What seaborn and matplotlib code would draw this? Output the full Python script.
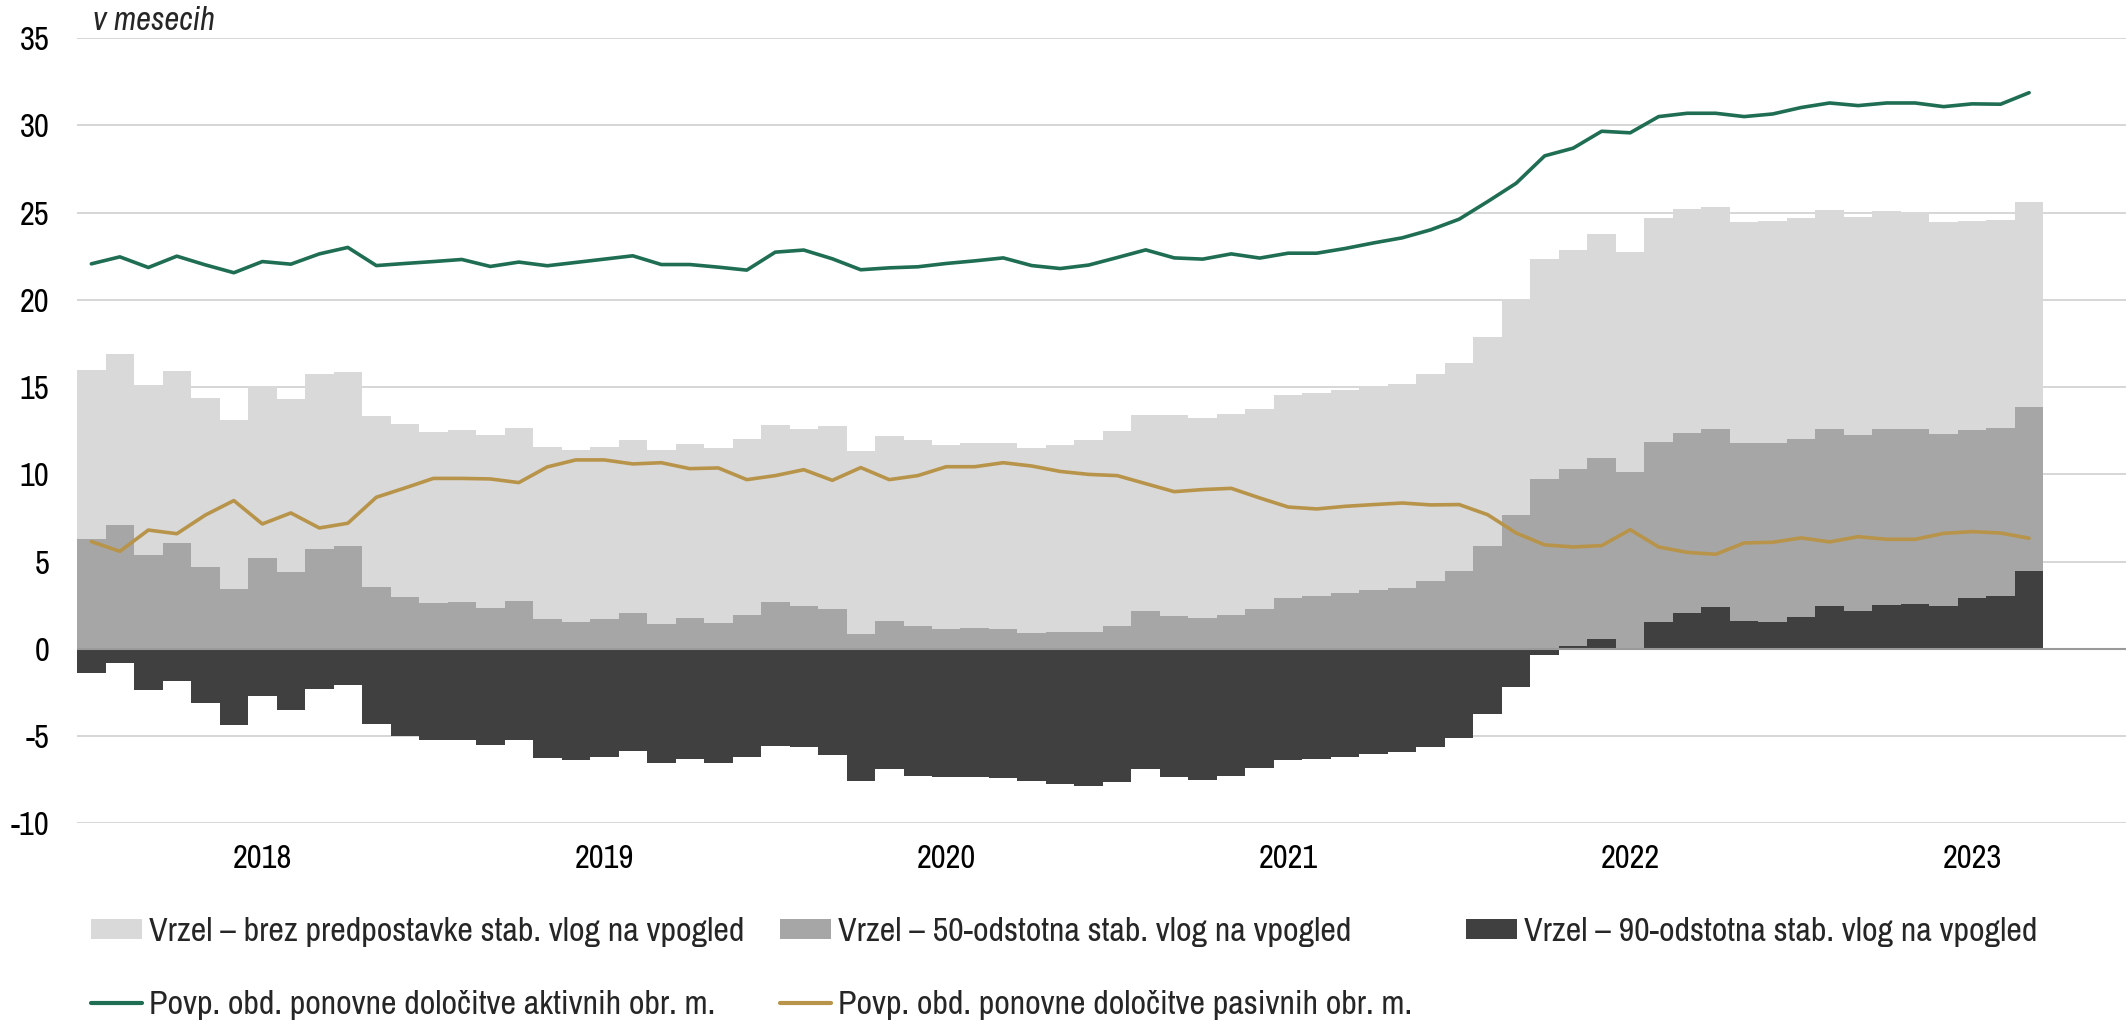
import matplotlib
matplotlib.use("Agg")
import matplotlib.pyplot as plt
from matplotlib.patches import Patch
from matplotlib.lines import Line2D
import seaborn as sns

# Mesečni podatki: januar 2018 - september 2023 (69 mesecev)
meseci = list(range(69))
leta = ["2018", "2019", "2020", "2021", "2022", "2023"]
pozicije_let = [6, 18, 30, 42, 54, 66]

vrzel_brez = [15.96, 16.90, 15.10, 15.94, 14.38, 13.14, 15.08, 14.30, 15.73, 15.85, 13.33, 12.89,
              12.45, 12.54, 12.24, 12.68, 11.55, 11.42, 11.55, 11.97, 11.42, 11.74, 11.51, 12.05,
              12.85, 12.62, 12.75, 11.36, 12.18, 11.95, 11.66, 11.82, 11.80, 11.53, 11.70, 11.99,
              12.51, 13.42, 13.38, 13.25, 13.46, 13.73, 14.57, 14.68, 14.81, 15.06, 15.20, 15.77,
              16.40, 17.89, 20.05, 22.32, 22.89, 23.77, 22.76, 24.67, 25.20, 25.32, 24.48, 24.55,
              24.69, 25.18, 24.78, 25.11, 25.05, 24.48, 24.55, 24.61, 25.61]
vrzel_50 = [6.32, 7.08, 5.40, 6.09, 4.71, 3.42, 5.21, 4.43, 5.75, 5.92, 3.55, 3.00,
            2.63, 2.71, 2.37, 2.77, 1.70, 1.56, 1.72, 2.08, 1.45, 1.74, 1.51, 1.93,
            2.67, 2.48, 2.31, 0.86, 1.60, 1.30, 1.12, 1.18, 1.15, 0.92, 0.95, 0.99,
            1.32, 2.15, 1.89, 1.74, 1.96, 2.31, 2.94, 3.03, 3.18, 3.40, 3.51, 3.89,
            4.48, 5.92, 7.69, 9.76, 10.29, 10.92, 10.16, 11.86, 12.39, 12.62, 11.80, 11.80,
            12.05, 12.58, 12.26, 12.58, 12.60, 12.32, 12.56, 12.66, 13.88]
vrzel_90 = [-1.40, -0.80, -2.37, -1.82, -3.08, -4.35, -2.69, -3.50, -2.31, -2.06, -4.28, -4.97,
            -5.23, -5.20, -5.52, -5.21, -6.24, -6.36, -6.21, -5.87, -6.53, -6.30, -6.57, -6.19,
            -5.56, -5.64, -6.09, -7.60, -6.88, -7.26, -7.33, -7.33, -7.39, -7.60, -7.72, -7.85,
            -7.64, -6.91, -7.35, -7.49, -7.31, -6.84, -6.36, -6.30, -6.19, -6.02, -5.90, -5.64,
            -5.10, -3.72, -2.18, -0.34, 0.15, 0.59, 0.00, 1.53, 2.06, 2.40, 1.60, 1.53,
            1.85, 2.44, 2.18, 2.52, 2.59, 2.48, 2.92, 3.01, 4.47]
aktivni = [22.07, 22.47, 21.86, 22.51, 22.01, 21.56, 22.20, 22.05, 22.64, 23.01, 21.97, 22.09,
           22.20, 22.32, 21.92, 22.17, 21.96, 22.15, 22.34, 22.53, 22.03, 22.03, 21.88, 21.71,
           22.74, 22.86, 22.36, 21.73, 21.84, 21.90, 22.09, 22.24, 22.41, 21.97, 21.80, 22.00,
           22.43, 22.87, 22.41, 22.34, 22.64, 22.40, 22.68, 22.68, 22.95, 23.27, 23.56, 24.02,
           24.63, 25.64, 26.69, 28.26, 28.70, 29.67, 29.58, 30.51, 30.70, 30.70, 30.51, 30.66,
           31.03, 31.29, 31.14, 31.29, 31.29, 31.08, 31.24, 31.22, 31.88]
pasivni = [6.15, 5.59, 6.81, 6.60, 7.67, 8.50, 7.16, 7.79, 6.93, 7.20, 8.69, 9.22,
           9.77, 9.77, 9.74, 9.53, 10.43, 10.83, 10.83, 10.60, 10.67, 10.33, 10.37, 9.70,
           9.93, 10.27, 9.66, 10.39, 9.70, 9.93, 10.44, 10.44, 10.67, 10.48, 10.17, 10.00,
           9.93, 9.47, 9.01, 9.13, 9.20, 8.65, 8.13, 8.02, 8.17, 8.27, 8.36, 8.25,
           8.27, 7.69, 6.64, 5.96, 5.84, 5.92, 6.83, 5.84, 5.53, 5.42, 6.07, 6.11,
           6.36, 6.13, 6.43, 6.28, 6.28, 6.62, 6.72, 6.64, 6.34]

oznake = ["Vrzel – brez predpostavke stab. vlog na vpogled",
          "Vrzel – 50-odstotna stab. vlog na vpogled",
          "Vrzel – 90-odstotna stab. vlog na vpogled",
          "Povp. obd. ponovne določitve aktivnih obr. m.",
          "Povp. obd. ponovne določitve pasivnih obr. m."]

barve = ["#d9d9d9", "#a6a6a6", "#404040", "#1f6e54", "#b8944a"]

sns.set_theme(style="white")
plt.rcParams["font.family"] = ["Archivo Narrow", "DejaVu Sans"]
plt.rcParams["axes.unicode_minus"] = False
velikost = 23.5
velikost_legende = 24.5

fig = plt.figure(figsize=(21.26, 10.23), dpi=100)
ax = fig.add_axes([0.03627, 0.1952, 0.96373, 0.7674])

# Prekrivajoči stolpci (svetli zadaj, temni spredaj)
for vrednosti, barva in zip([vrzel_brez, vrzel_50, vrzel_90], barve[:3]):
    sns.barplot(x=meseci, y=vrednosti, color=barva, width=1.0, saturation=1,
                linewidth=0, ax=ax, zorder=2)

ax.axhline(0, color="#9a9a9a", lw=1.5, zorder=3)

sns.lineplot(x=meseci, y=aktivni, color=barve[3], lw=2.6, ax=ax, zorder=4)
sns.lineplot(x=meseci, y=pasivni, color=barve[4], lw=2.6, ax=ax, zorder=4)

ax.set_xlim(-0.5, 71.4)
ax.set_ylim(-10, 35)
ax.set_yticks(range(-10, 36, 5))
ax.set_xticks(pozicije_let)
ax.set_xticklabels(leta)
ax.yaxis.grid(True, color="#cfcfcf", lw=1.2, zorder=0)
ax.set_axisbelow(True)
for s in ax.spines.values():
    s.set_visible(False)
ax.tick_params(axis="y", length=0, pad=20, labelsize=velikost, labelcolor="black")
ax.tick_params(axis="x", length=0, pad=15, labelsize=velikost, labelcolor="black")
ax.set_xlabel("")
ax.set_ylabel("")

fig.text(93 / 2126, 1 - 30 / 1023, "v mesecih", fontsize=velikost, style="italic",
         va="baseline", ha="left")

# Legenda: vsak vnos posebej, dve vrsti
rocaji = [Patch(facecolor=barve[0], edgecolor="none"),
          Patch(facecolor=barve[1], edgecolor="none"),
          Patch(facecolor=barve[2], edgecolor="none"),
          Line2D([0], [0], color=barve[3], lw=3),
          Line2D([0], [0], color=barve[4], lw=3)]
mesta = [(91, 932), (780, 932), (1466, 932), (91, 1005), (780, 1005)]
for rocaj, oznaka, (px, py) in zip(rocaji, oznake, mesta):
    fig.legend([rocaj], [oznaka], frameon=False, fontsize=velikost_legende, handlelength=1.5,
               handleheight=0.55, handletextpad=0.2, borderpad=0, borderaxespad=0,
               loc="center left", bbox_to_anchor=(px / 2126, 1 - py / 1023))

fig.savefig("out.png", dpi=100)
